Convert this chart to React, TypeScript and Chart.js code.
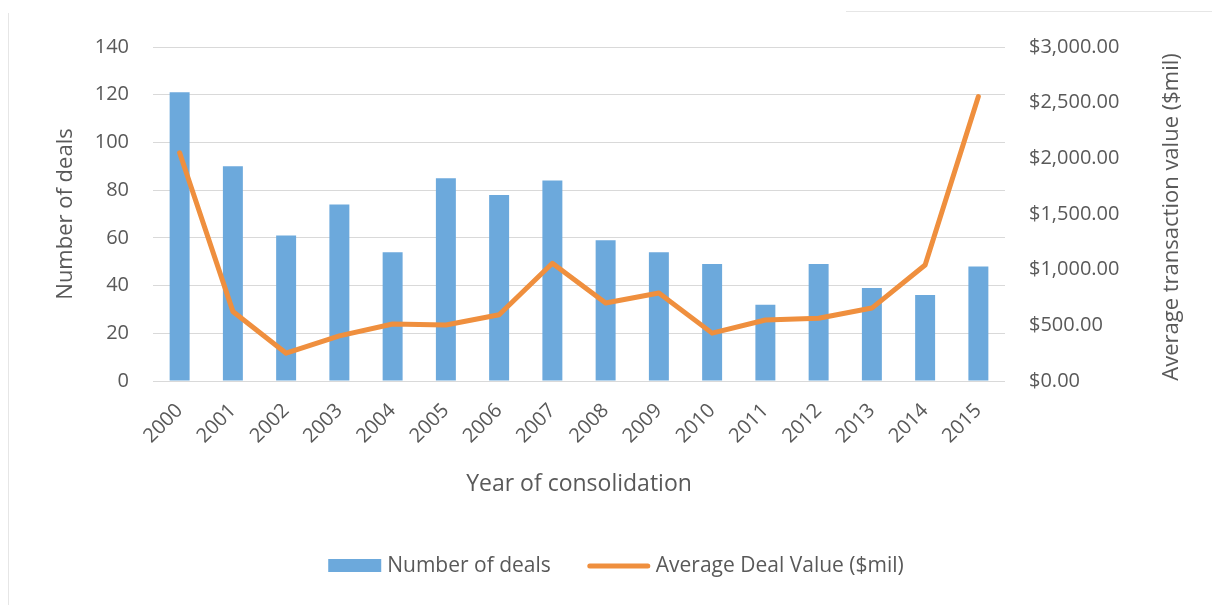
import React, { useEffect, useRef } from "react";
import { Chart, registerables } from "chart.js";

Chart.register(...registerables);

const years = ["2000","2001","2002","2003","2004","2005","2006","2007","2008","2009","2010","2011","2012","2013","2014","2015"];
const numberOfDeals = [121, 90, 61, 74, 54, 85, 78, 84, 59, 54, 49, 32, 49, 39, 36, 48];
const avgDealValue = [2050, 625, 250, 405, 512, 503, 595, 1057, 700, 790, 430, 548, 563, 655, 1042, 2555];
const leftTicks = { min: 0, max: 140, step: 20 };
const rightTicks = { min: 0, max: 3000, step: 500 };

const BAR_COLOR = "#6CA9DC";
const LINE_COLOR = "#EF8F3E";
const TEXT_COLOR = "#595959";
const FONT = "'Open Sans', 'DejaVu Sans', sans-serif";

const overlayPlugin = {
  id: "overlay",
  afterDraw(chart: any) {
    const ctx = chart.ctx;
    const area = chart.chartArea;
    ctx.save();
    // right axis title (reads bottom to top)
    ctx.fillStyle = TEXT_COLOR;
    ctx.font = `22px ${FONT}`;
    ctx.textAlign = "center";
    ctx.textBaseline = "middle";
    ctx.translate(1172, (area.top + area.bottom) / 2 + 3);
    ctx.rotate(-Math.PI / 2);
    ctx.fillText("Average transaction value ($mil)", 0, 0);
    ctx.restore();

    // legend
    ctx.save();
    const ds = chart.data.datasets;
    ctx.font = `21px ${FONT}`;
    ctx.textBaseline = "middle";
    ctx.textAlign = "left";
    const y = 566;
    const rectW = 53, lineW = 62, gap = 6, itemGap = 37;
    const t1 = ctx.measureText(ds[0].label).width;
    const t2 = ctx.measureText(ds[1].label).width;
    const total = rectW + gap + t1 + itemGap + lineW + gap + t2;
    let x = 616 - total / 2;
    ctx.fillStyle = ds[0].backgroundColor;
    ctx.fillRect(x, y - 7, rectW, 13);
    x += rectW + gap;
    ctx.fillStyle = TEXT_COLOR;
    ctx.fillText(ds[0].label, x, y);
    x += t1 + itemGap;
    ctx.strokeStyle = ds[1].borderColor;
    ctx.lineWidth = 5;
    ctx.lineCap = "round";
    ctx.beginPath();
    ctx.moveTo(x + 2, y);
    ctx.lineTo(x + lineW - 2, y);
    ctx.stroke();
    x += lineW + gap;
    ctx.fillStyle = TEXT_COLOR;
    ctx.fillText(ds[1].label, x, y);
    ctx.restore();
  },
};

export default function App() {
  const canvasRef = useRef<HTMLCanvasElement | null>(null);

  useEffect(() => {
    document.body.style.margin = "0";
    const canvas = canvasRef.current;
    if (!canvas) return;
    const chart = new Chart(canvas, {
      data: {
        labels: years,
        datasets: [
          {
            type: "bar",
            label: "Number of deals",
            data: numberOfDeals,
            yAxisID: "y",
            backgroundColor: BAR_COLOR,
            barPercentage: 0.75,
            categoryPercentage: 0.5,
            order: 1,
          } as any,
          {
            type: "line",
            label: "Average Deal Value ($mil)",
            data: avgDealValue,
            yAxisID: "y1",
            borderColor: LINE_COLOR,
            backgroundColor: LINE_COLOR,
            borderWidth: 5,
            pointRadius: 0,
            tension: 0,
            borderJoinStyle: "round",
            borderCapStyle: "round",
            order: 0,
          } as any,
        ],
      },
      options: {
        animation: false,
        responsive: false,
        maintainAspectRatio: false,
        layout: { padding: { top: 47, left: 0, right: 0, bottom: 104 } },
        plugins: {
          legend: { display: false },
          tooltip: { enabled: false },
        },
        scales: {
          x: {
            grid: { display: false, drawTicks: false },
            border: { display: false },
            ticks: {
              color: TEXT_COLOR,
              font: { family: FONT, size: 20 },
              minRotation: 45,
              maxRotation: 45,
              padding: 18,
            },
            title: {
              display: true,
              text: "Year of consolidation",
              color: TEXT_COLOR,
              font: { family: FONT, size: 23 },
              padding: { top: 0, bottom: 3 },
            },
            afterFit(scale: any) {
              scale.height = 120;
            },
          },
          y: {
            position: "left",
            min: leftTicks.min,
            max: leftTicks.max,
            ticks: {
              stepSize: leftTicks.step,
              color: TEXT_COLOR,
              font: { family: FONT, size: 20 },
              padding: 24,
            },
            grid: { color: "#D9D9D9", lineWidth: 1, drawTicks: false },
            border: { display: false },
            title: {
              display: true,
              text: "Number of deals",
              color: TEXT_COLOR,
              font: { family: FONT, size: 22 },
              padding: { top: 53, bottom: 0 },
            },
            afterFit(scale: any) {
              scale.width = 153;
            },
          },
          y1: {
            position: "right",
            min: rightTicks.min,
            max: rightTicks.max,
            ticks: {
              stepSize: rightTicks.step,
              color: TEXT_COLOR,
              font: { family: FONT, size: 20 },
              padding: 24,
              callback: (v: any) =>
                "$" + Number(v).toLocaleString("en-US", { minimumFractionDigits: 2, maximumFractionDigits: 2 }),
            },
            grid: { display: false, drawTicks: false },
            border: { display: false },
            afterFit(scale: any) {
              scale.width = 207;
            },
          },
        },
      },
      plugins: [overlayPlugin],
    });
    return () => chart.destroy();
  }, []);

  return (
    <div style={{ position: "relative", width: 1212, height: 605, background: "#fff" }}>
      <canvas ref={canvasRef} width={1212} height={605} style={{ display: "block" }} />
      <div style={{ position: "absolute", left: 8, top: 13, width: 1, height: 592, background: "#E6E6E6" }} />
      <div style={{ position: "absolute", left: 846, top: 11, width: 366, height: 1, background: "#E6E6E6" }} />
    </div>
  );
}
